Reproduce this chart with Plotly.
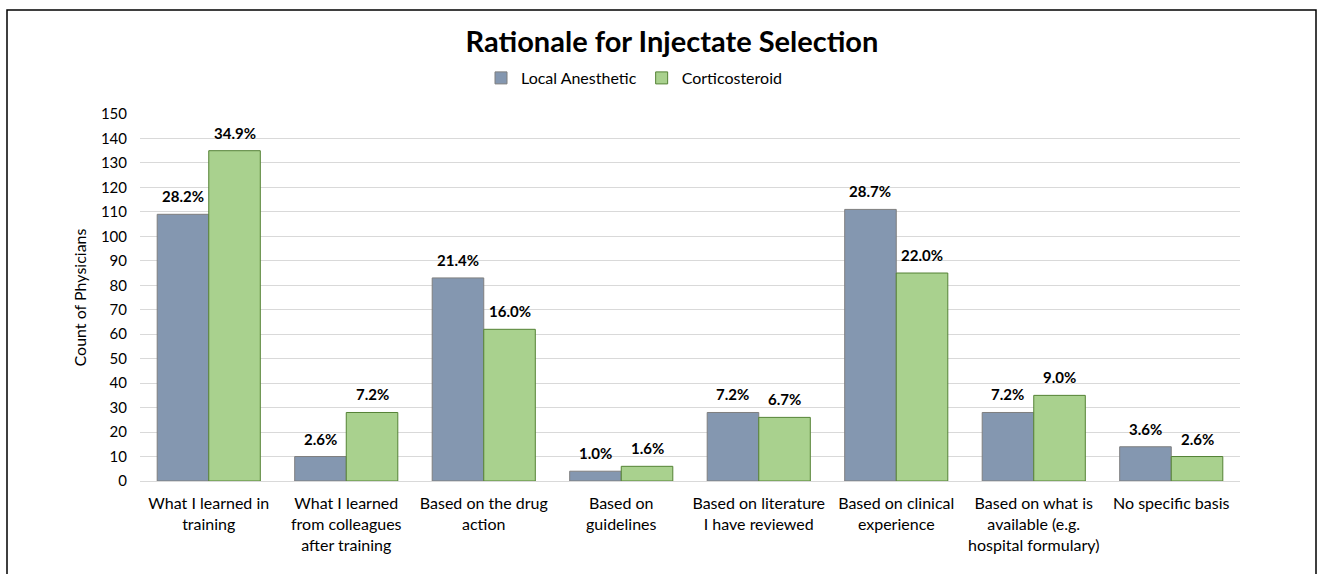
import plotly.graph_objects as go

categories = [
    "What I learned in<br>training",
    "What I learned<br>from colleagues<br>after training",
    "Based on the drug<br>action",
    "Based on<br>guidelines",
    "Based on literature<br>I have reviewed",
    "Based on clinical<br>experience",
    "Based on what is<br>available (e.g.<br>hospital formulary)",
    "No specific basis",
]
local_counts = [109, 10, 83, 4, 28, 111, 28, 14]
local_pct = ["28.2%", "2.6%", "21.4%", "1.0%", "7.2%", "28.7%", "7.2%", "3.6%"]
cortico_counts = [135, 28, 62, 6, 26, 85, 35, 10]
cortico_pct = ["34.9%", "7.2%", "16.0%", "1.6%", "6.7%", "22.0%", "9.0%", "2.6%"]
y_ticks = list(range(0, 151, 10))

FONT = "Lato, Carlito, Calibri, 'Open Sans', sans-serif"

L, R, T, B = 140, 78, 114, 93
W, H = 1318, 574
pw, ph = W - L - R, H - T - B
BARGAP = 0.25
bar_px = pw / len(categories) * (1 - BARGAP) / 2

fig = go.Figure()
fig.add_trace(go.Bar(
    name="Local Anesthetic", x=categories, y=local_counts,
    marker=dict(color="#8497B0", line=dict(color="#7F7F7F", width=1)),
))
fig.add_trace(go.Bar(
    name="Corticosteroid", x=categories, y=cortico_counts,
    marker=dict(color="#A9D18E", line=dict(color="#548235", width=1)),
))

annotations = []
for vals, pcts, sign in ((local_counts, local_pct, -1), (cortico_counts, cortico_pct, 1)):
    for c, v, p in zip(categories, vals, pcts):
        annotations.append(dict(
            x=c, y=v, xref="x", yref="y", text=f"<b>{p}</b>", showarrow=False,
            xshift=sign * bar_px / 2, yshift=7, yanchor="bottom", xanchor="center",
            font=dict(family=FONT, size=15, color="#000000"),
        ))

fig.update_layout(
    width=W, height=H,
    margin=dict(l=L, r=R, t=T, b=B),
    paper_bgcolor="white", plot_bgcolor="white",
    font=dict(family=FONT, size=16, color="#000000"),
    barmode="group", bargap=BARGAP, bargroupgap=0,
    title=dict(text="<b>Rationale for Injectate Selection</b>", x=672 / W, xanchor="center",
               y=1 - 42 / H, yanchor="middle", font=dict(size=29, color="#000000")),
    legend=dict(orientation="h", x=(634 - L) / pw, xanchor="center",
                y=1 + (T - 78) / ph, yanchor="middle",
                font=dict(size=16, color="#000000"), itemwidth=30, traceorder="normal"),
    annotations=annotations,
)
fig.update_yaxes(
    range=[0, 150], tickvals=y_ticks, showgrid=True, gridcolor="#D9D9D9", gridwidth=1,
    zeroline=False, showline=False, ticks="", ticklen=0, ticklabelstandoff=12,
    tickfont=dict(size=15, color="#000000"),
    title=dict(text="Count of Physicians", font=dict(size=16, color="#000000"), standoff=10),
)
fig.update_xaxes(
    showline=True, linecolor="#D9D9D9", linewidth=1, ticks="", ticklabelstandoff=8,
    tickfont=dict(size=16, color="#000000"), tickangle=0,
)
# outer chart frame
fig.add_shape(type="rect", xref="paper", yref="paper",
              x0=(7 - L) / pw, x1=(1316 - L) / pw,
              y0=-(H + 20 - (T + ph)) / ph, y1=1 + (T - 10) / ph,
              line=dict(color="#000000", width=1.5), fillcolor="rgba(0,0,0,0)", layer="below")

fig.write_html("out.html")
